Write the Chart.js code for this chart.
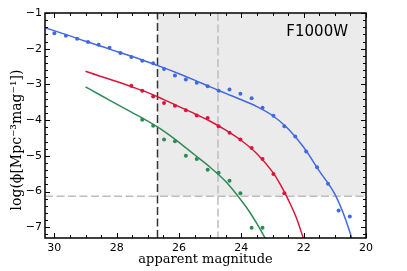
<!DOCTYPE html>
<html>
<head>
<meta charset="utf-8">
<script src="https://cdn.jsdelivr.net/npm/chart.js@4.4.0/dist/chart.umd.min.js"></script>
<style>
  html, body { margin: 0; padding: 0; background: #fff; }
  canvas { display: block; }
</style>
</head>
<body>
<canvas id="lf" width="407" height="271"></canvas>
<script>
// binned points (apparent magnitude)
var mags = [30.0, 29.63, 29.27, 28.92, 28.58, 28.23, 27.88, 27.53, 27.18, 26.83,
  26.48, 26.13, 25.78, 25.43, 25.08, 24.73, 24.38, 24.03, 23.67, 23.32,
  22.97, 22.62, 22.27, 21.92, 21.57, 21.22, 20.88, 20.52];
var bluePts = [-1.57, -1.64, -1.72, -1.81, -1.89, -1.97, -2.12, -2.23, -2.34, -2.41,
  -2.57, -2.75, -2.86, -2.95, -3.05, -3.18, -3.14, -3.26, -3.39, -3.65,
  -3.88, -4.17, -4.46, -4.88, -5.32, -5.78, -6.53, -6.70];
var redPts = [null, null, null, null, null, null, null, -3.04, -3.18, -3.34,
  -3.52, -3.60, -3.72, -3.87, -3.94, -4.17, -4.35, -4.54, -4.78, -5.09,
  -5.51, -6.05, null, null, null, null, null, null];
var greenPts = [null, null, null, null, null, null, null, null, -3.99, -4.16,
  -4.54, -4.59, -5.00, -5.09, -5.39, -5.47, -5.70, -6.05, -7.01, -7.01,
  null, null, null, null, null, null, null, null];

// fitted curves
var blueFitMag = [30.3, 29.5, 29, 28.5, 28, 27.5, 27, 26.5, 26, 25.5, 25, 24.5, 24, 23.5, 23, 22.5, 22, 21.5, 21, 20.75, 20.5, 20.45];
var blueFitVal = [-1.41, -1.64, -1.79, -1.93, -2.08, -2.22, -2.37, -2.53, -2.70, -2.88, -3.07, -3.25, -3.43, -3.62, -3.87, -4.24, -4.76, -5.42, -6.07, -6.56, -7.18, -7.33];
var redFitMag = [29, 28.5, 28, 27.5, 27, 26.5, 26, 25.5, 25, 24.5, 24, 23.5, 23, 22.75, 22.5, 22.25, 22.0];
var redFitVal = [-2.63, -2.78, -2.92, -3.07, -3.23, -3.42, -3.62, -3.82, -4.03, -4.28, -4.57, -4.94, -5.45, -5.80, -6.22, -6.70, -7.33];
var greenFitMag = [29, 28.5, 28, 27.5, 27, 26.5, 26, 25.5, 25, 24.5, 24, 23.75, 23.5, 23.2];
var greenFitVal = [-3.07, -3.31, -3.55, -3.79, -4.03, -4.30, -4.62, -4.97, -5.32, -5.72, -6.25, -6.55, -6.90, -7.36];

var xTicks = [30, 28, 26, 24, 22, 20];
var yTicks = [-7, -6, -5, -4, -3, -2, -1];
var completeMag = 26.69;   // black dashed line
var limitMag = 24.75;      // grey dashed line
var limitPhi = -6.13;      // grey dashed horizontal

var BLUE = "rgb(65,105,225)";
var RED = "rgb(220,20,60)";
var GREEN = "rgb(46,139,87)";

function pts(xs, ys) {
  var out = [];
  for (var i = 0; i < xs.length; i++) {
    if (ys[i] !== null) out.push({ x: xs[i], y: ys[i] });
  }
  return out;
}

function fitSet(xs, ys, col) {
  return {
    data: pts(xs, ys), showLine: true, borderColor: col, borderWidth: 1.5,
    pointRadius: 0, cubicInterpolationMode: "monotone", fill: false
  };
}
function dotSet(ys, col) {
  return {
    data: pts(mags, ys), showLine: false, pointRadius: 2, pointBorderWidth: 0,
    backgroundColor: col, borderColor: col
  };
}

var overlay = {
  id: "overlay",
  beforeDatasetsDraw: function (chart) {
    var ctx = chart.ctx, a = chart.chartArea, x = chart.scales.x, y = chart.scales.y;
    ctx.save();
    var xl = x.getPixelForValue(completeMag);
    var yb = y.getPixelForValue(limitPhi);
    ctx.fillStyle = "#ebebeb";
    ctx.fillRect(xl, a.top, a.right - xl, yb - a.top);

    ctx.lineWidth = 1.5;
    ctx.setLineDash([8, 3.5]);
    ctx.strokeStyle = "#bdbdbd";
    ctx.beginPath();
    ctx.moveTo(a.left, yb); ctx.lineTo(a.right, yb);
    var xg = x.getPixelForValue(limitMag);
    ctx.moveTo(xg, a.top); ctx.lineTo(xg, a.bottom);
    ctx.stroke();

    ctx.strokeStyle = "#333";
    ctx.beginPath();
    ctx.moveTo(xl, a.bottom); ctx.lineTo(xl, a.top);
    ctx.stroke();
    ctx.restore();
  },
  afterDatasetsDraw: function (chart) {
    var ctx = chart.ctx, a = chart.chartArea, x = chart.scales.x, y = chart.scales.y;
    ctx.save();
    ctx.strokeStyle = "#000";
    ctx.lineWidth = 1;
    ctx.beginPath();
    var i, p, len;
    // x ticks every 0.5, major every 2
    for (i = 40; i <= 60; i++) {
      p = Math.round(x.getPixelForValue(i / 2)) + 0.5;
      len = (i % 4 === 0) ? 5 : 3;
      ctx.moveTo(p, a.bottom); ctx.lineTo(p, a.bottom - len);
      ctx.moveTo(p, a.top); ctx.lineTo(p, a.top + len);
    }
    // y ticks every 0.2, major every 1
    for (i = -36; i <= -5; i++) {
      p = Math.round(y.getPixelForValue(i / 5)) + 0.5;
      len = (i % 5 === 0) ? 5 : 3;
      ctx.moveTo(a.left, p); ctx.lineTo(a.left + len, p);
      ctx.moveTo(a.right, p); ctx.lineTo(a.right - len, p);
    }
    ctx.stroke();

    ctx.lineWidth = 1.5;
    ctx.strokeRect(a.left, a.top, a.right - a.left, a.bottom - a.top);

    ctx.fillStyle = "#000";
    ctx.font = "15px 'DejaVu Sans'";
    ctx.textAlign = "right";
    ctx.textBaseline = "alphabetic";
    ctx.fillText("F1000W", a.right - 18, a.top + 23);

    ctx.font = "13px 'DejaVu Serif'";
    ctx.textAlign = "center";
    ctx.textBaseline = "middle";
    ctx.fillText("apparent magnitude", (a.left + a.right) / 2, 260);

    ctx.font = "14px 'DejaVu Serif'";
    ctx.translate(17, 140);
    ctx.rotate(-Math.PI / 2);
    ctx.fillText("log(\u03d5[Mpc\u207b\u00b3mag\u207b\u00b9])", 0, 0);
    ctx.restore();
  }
};

var tickFont = { family: "DejaVu Sans", size: 11 };
function minus(v) { return String(v).replace("-", "\u2212"); }

new Chart(document.getElementById("lf").getContext("2d"), {
  type: "scatter",
  data: {
    datasets: [
      fitSet(blueFitMag, blueFitVal, BLUE),
      fitSet(redFitMag, redFitVal, RED),
      fitSet(greenFitMag, greenFitVal, GREEN),
      dotSet(bluePts, BLUE),
      dotSet(redPts, RED),
      dotSet(greenPts, GREEN)
    ]
  },
  options: {
    responsive: false,
    animation: false,
    devicePixelRatio: 1,
    layout: { padding: { top: 13, right: 41, left: 0, bottom: 0 } },
    plugins: { legend: { display: false }, tooltip: { enabled: false } },
    scales: {
      x: {
        type: "linear", reverse: true, min: 20, max: 30.3,
        grid: { display: false, drawTicks: false }, border: { display: false },
        ticks: { font: tickFont, color: "#000", padding: 4, callback: minus },
        afterBuildTicks: function (s) { s.ticks = xTicks.map(function (v) { return { value: v }; }); },
        afterFit: function (s) { s.height = 33; }
      },
      y: {
        type: "linear", min: -7.3, max: -1,
        grid: { display: false, drawTicks: false }, border: { display: false },
        ticks: { font: tickFont, color: "#000", padding: 3, callback: minus },
        afterBuildTicks: function (s) { s.ticks = yTicks.map(function (v) { return { value: v }; }); },
        afterFit: function (s) { s.width = 45; }
      }
    }
  },
  plugins: [overlay]
});
</script>
</body>
</html>
